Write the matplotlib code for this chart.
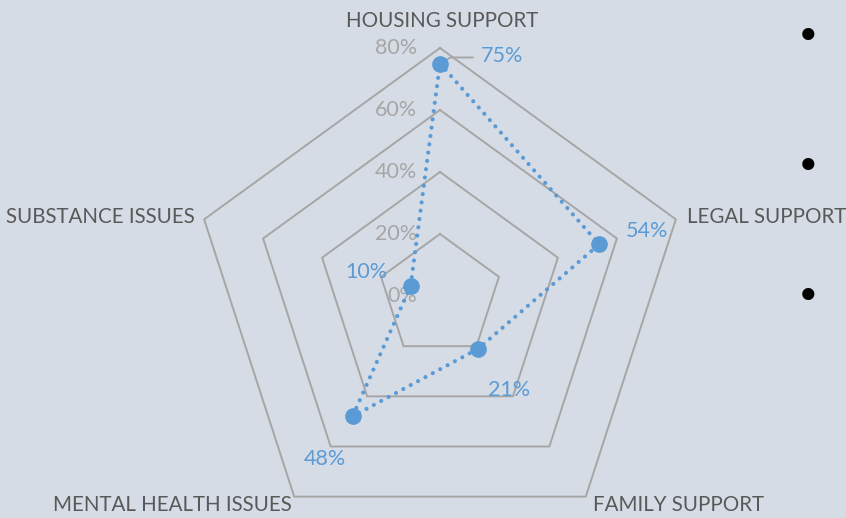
import numpy as np
import matplotlib
matplotlib.use("Agg")
import matplotlib.pyplot as plt

# categories clockwise from the top
categories = ["HOUSING SUPPORT", "LEGAL SUPPORT", "FAMILY SUPPORT",
              "MENTAL HEALTH ISSUES", "SUBSTANCE ISSUES"]
values = [75, 54, 21, 48, 10]
rings = [20, 40, 60, 80]
ring_labels = ["0%", "20%", "40%", "60%", "80%"]

BG = "#D6DCE5"
BLUE = "#5B9BD5"
GRID = "#A6A6A6"
TEXT = "#595959"

plt.rcParams['font.family'] = ['Lato', 'DejaVu Sans']

angles = np.pi / 2 - np.arange(len(categories)) * 2 * np.pi / len(categories)


def to_xy(r):
    r = np.asarray(r, dtype=float)
    return r * np.cos(angles), r * np.sin(angles)


fig = plt.figure(figsize=(8.46, 5.18), dpi=100, facecolor=BG)
ax = fig.add_axes([0, 0, 1, 1])
ax.set_facecolor(BG)
scale = 3.1  # pixels per percent
ax.set_xlim(-440 / scale, (846 - 440) / scale)
ax.set_ylim(-(518 - 296) / scale, 296 / scale)
ax.axis("off")

# pentagon grid
for r in rings:
    gx, gy = to_xy([r] * len(categories))
    ax.plot(np.append(gx, gx[0]), np.append(gy, gy[0]), color=GRID, lw=1.4, zorder=1)

# ring labels along the top spoke
for i, lab in enumerate(ring_labels):
    ax.annotate(lab, (0, i * 20), xytext=(-23, 0), textcoords="offset pixels",
                ha="right", va="center", color=GRID, fontsize=15.5)

# data series
px, py = to_xy(values)
ax.plot(np.append(px, px[0]), np.append(py, py[0]), color=BLUE, lw=3.0,
        linestyle=(0, (0.01, 2.0)), dash_capstyle="round", zorder=3)
ax.plot(px, py, "o", color=BLUE, ms=11, zorder=4)

# data labels
offsets = [(62, 7), (48, 13), (31, -41), (-28, -43), (-44, 14)]
for x, y, v, off in zip(px, py, values, offsets):
    ax.annotate(f"{v}%", (x, y), xytext=off, textcoords="offset pixels",
                ha="center", va="center", color=BLUE, fontsize=15.5, zorder=5)
# leader line for the top label
ax.annotate("", (px[0], py[0]), xytext=(33, 6), textcoords="offset pixels",
            arrowprops=dict(arrowstyle="-", color=GRID, lw=1.4, shrinkA=0, shrinkB=3,
                            connectionstyle="angle,angleA=0,angleB=30,rad=0"))

# category labels
cat_pos = [((442, 21), "center"), ((687, 217), "left"), ((678, 505), "center"),
           ((172, 505), "center"), ((195, 217), "right")]
for name, ((cx, cy), ha) in zip(categories, cat_pos):
    fig.text(cx / 846, 1 - cy / 518, name, ha=ha, va="center", color=TEXT, fontsize=14.8)

# stray bullets on the right edge
for by in [38, 168, 298]:
    fig.text(808 / 846, 1 - by / 518, "\u2022", ha="center", va="center",
             color="black", fontsize=30, family=["DejaVu Sans"])

fig.savefig("out.png", dpi=100, facecolor=BG)
